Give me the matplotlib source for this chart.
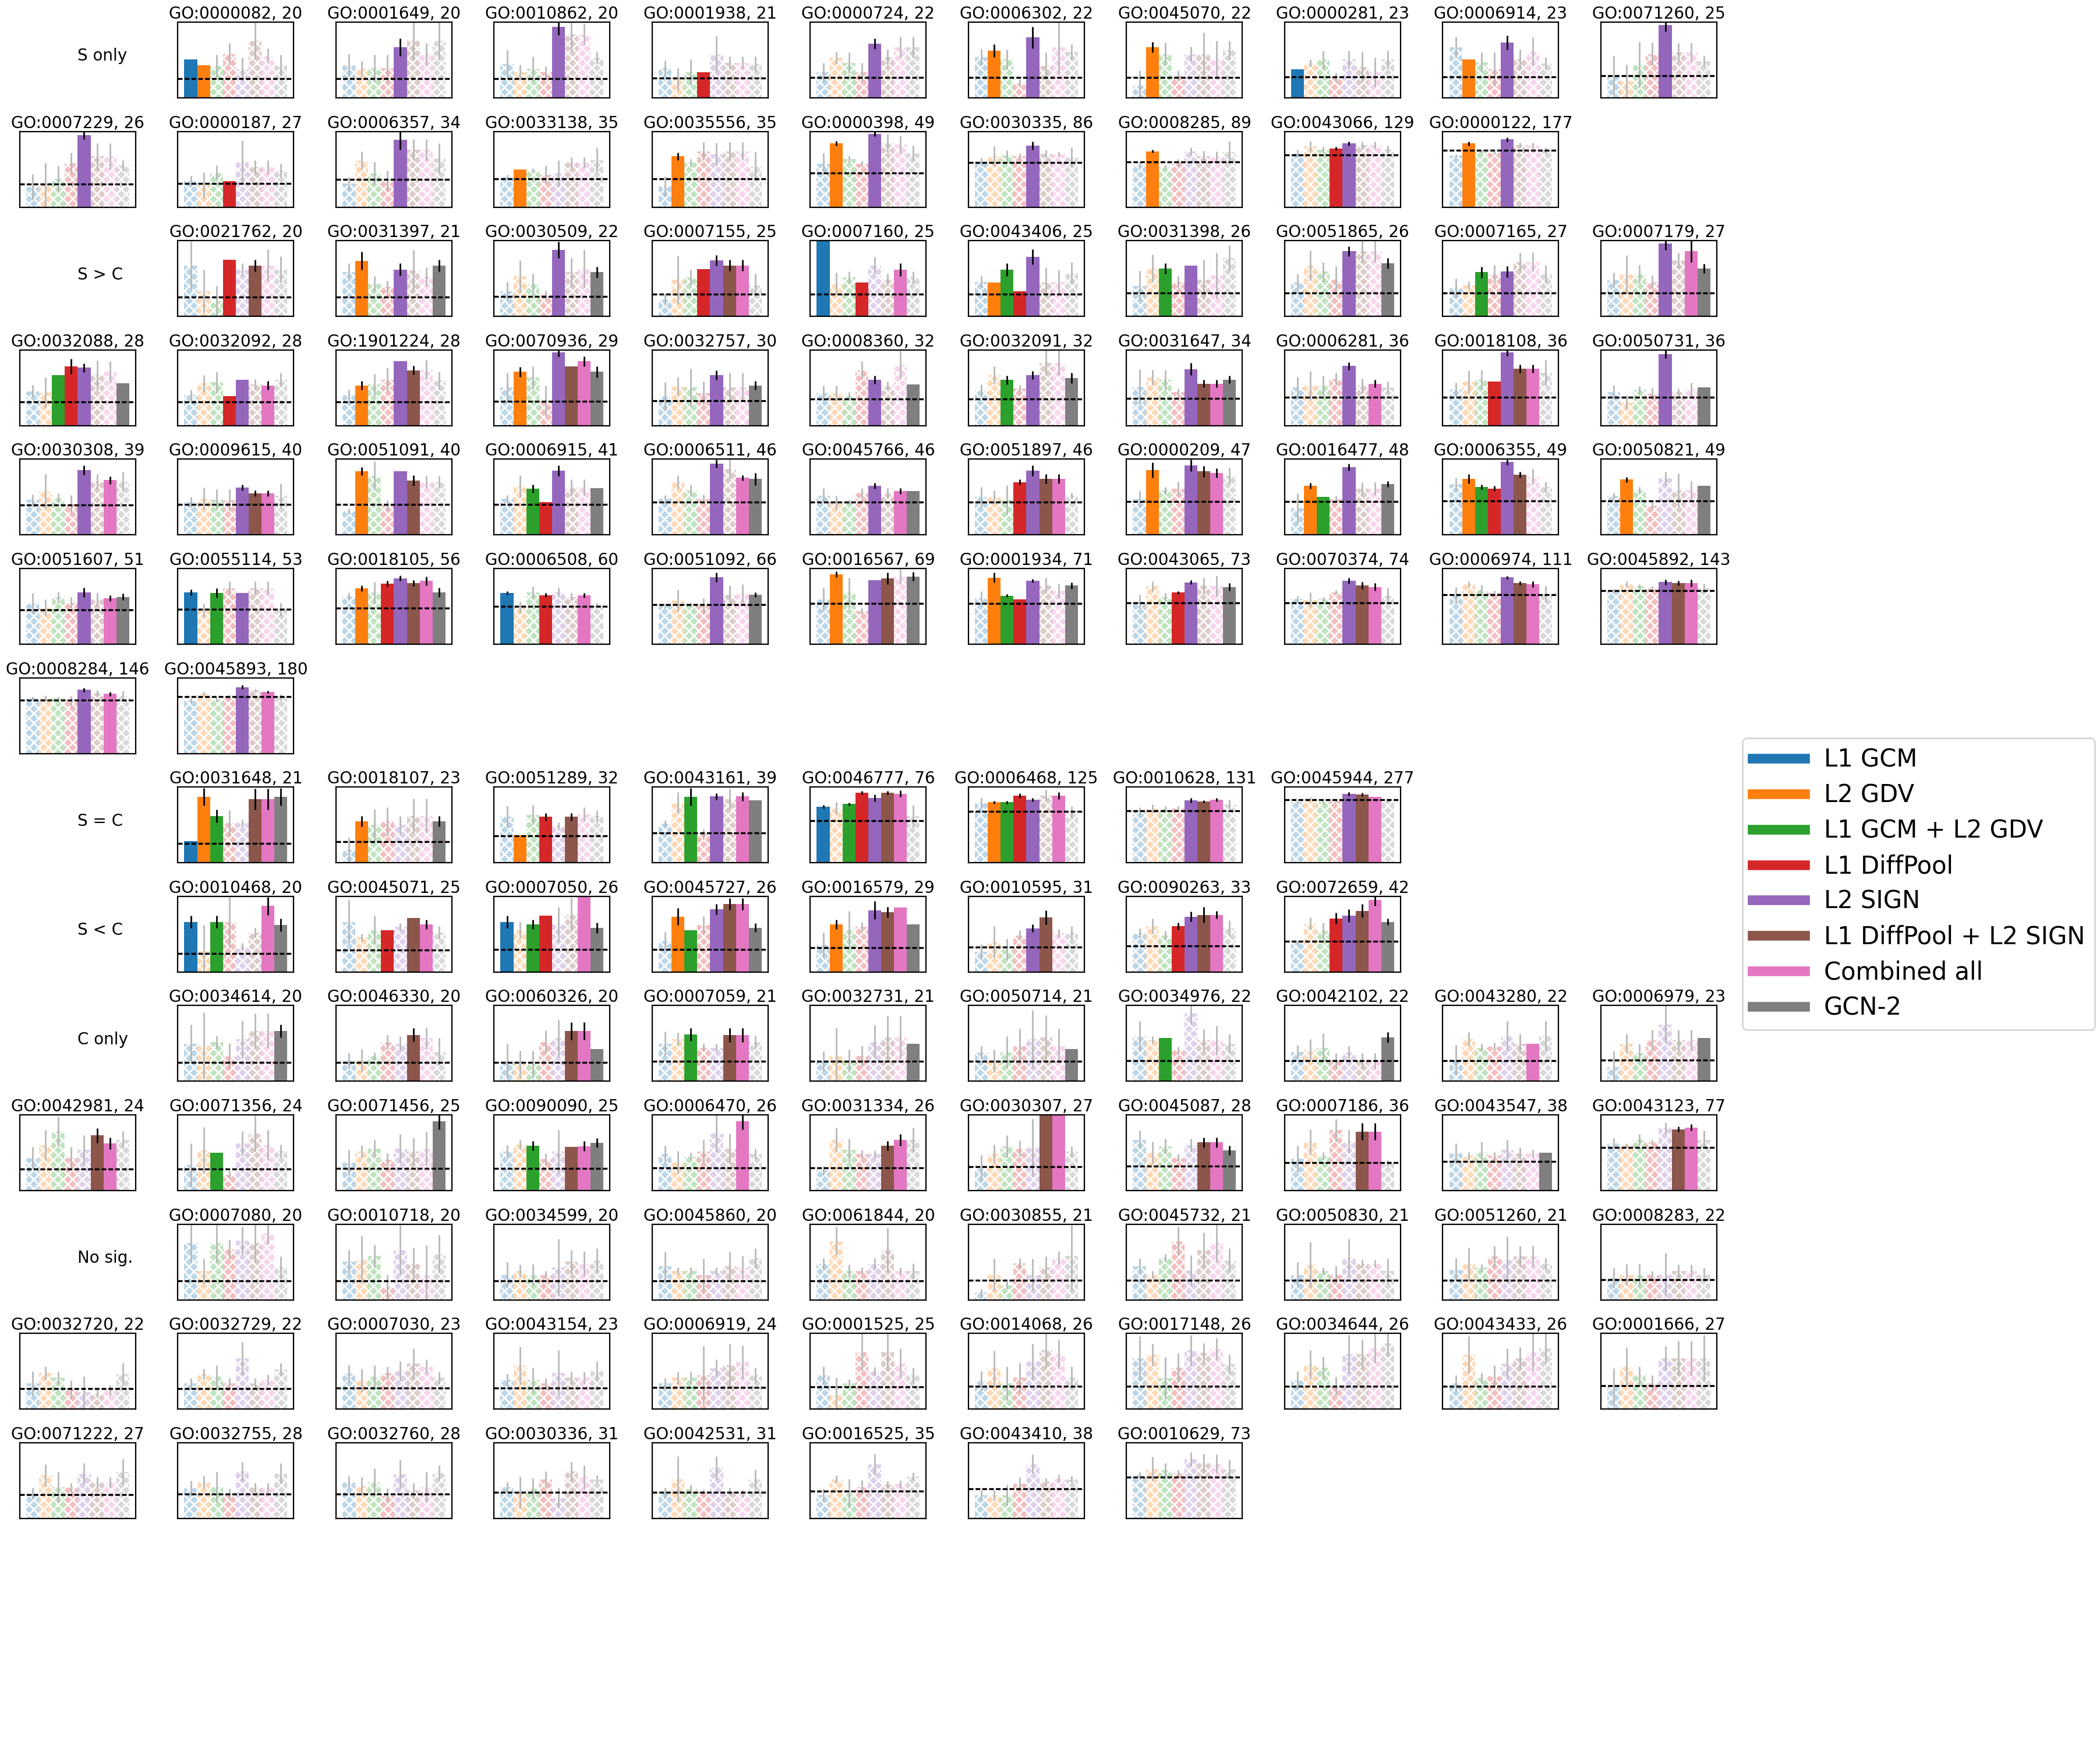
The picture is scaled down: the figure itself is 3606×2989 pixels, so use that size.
import numpy as np
import matplotlib.pyplot as plt
from matplotlib.gridspec import GridSpec
from matplotlib.lines import Line2D
from matplotlib.colors import to_rgb

methods = ['L1 GCM', 'L2 GDV', 'L1 GCM + L2 GDV', 'L1 DiffPool', 'L2 SIGN',
           'L1 DiffPool + L2 SIGN', 'Combined all', 'GCN-2']
colors = ['#1f77b4', '#ff7f0e', '#2ca02c', '#d62728', '#9467bd', '#8c564b', '#e377c2', '#7f7f7f']

section_names = ['S only', 'S > C', 'S = C', 'S < C', 'C only', 'No sig.']
section_sizes = [20, 45, 8, 8, 21, 29]

go_terms = [
    # S only
    'GO:0000082', 'GO:0001649', 'GO:0010862', 'GO:0001938', 'GO:0000724', 'GO:0006302', 'GO:0045070',
    'GO:0000281', 'GO:0006914', 'GO:0071260', 'GO:0007229', 'GO:0000187', 'GO:0006357', 'GO:0033138',
    'GO:0035556', 'GO:0000398', 'GO:0030335', 'GO:0008285', 'GO:0043066', 'GO:0000122',
    # S > C
    'GO:0021762', 'GO:0031397', 'GO:0030509', 'GO:0007155', 'GO:0007160', 'GO:0043406', 'GO:0031398',
    'GO:0051865', 'GO:0007165', 'GO:0007179', 'GO:0032088', 'GO:0032092', 'GO:1901224', 'GO:0070936',
    'GO:0032757', 'GO:0008360', 'GO:0032091', 'GO:0031647', 'GO:0006281', 'GO:0018108', 'GO:0050731',
    'GO:0030308', 'GO:0009615', 'GO:0051091', 'GO:0006915', 'GO:0006511', 'GO:0045766', 'GO:0051897',
    'GO:0000209', 'GO:0016477', 'GO:0006355', 'GO:0050821', 'GO:0051607', 'GO:0055114', 'GO:0018105',
    'GO:0006508', 'GO:0051092', 'GO:0016567', 'GO:0001934', 'GO:0043065', 'GO:0070374', 'GO:0006974',
    'GO:0045892', 'GO:0008284', 'GO:0045893',
    # S = C
    'GO:0031648', 'GO:0018107', 'GO:0051289', 'GO:0043161', 'GO:0046777', 'GO:0006468', 'GO:0010628',
    'GO:0045944',
    # S < C
    'GO:0010468', 'GO:0045071', 'GO:0007050', 'GO:0045727', 'GO:0016579', 'GO:0010595', 'GO:0090263',
    'GO:0072659',
    # C only
    'GO:0034614', 'GO:0046330', 'GO:0060326', 'GO:0007059', 'GO:0032731', 'GO:0050714', 'GO:0034976',
    'GO:0042102', 'GO:0043280', 'GO:0006979', 'GO:0042981', 'GO:0071356', 'GO:0071456', 'GO:0090090',
    'GO:0006470', 'GO:0031334', 'GO:0030307', 'GO:0045087', 'GO:0007186', 'GO:0043547', 'GO:0043123',
    # No sig.
    'GO:0007080', 'GO:0010718', 'GO:0034599', 'GO:0045860', 'GO:0061844', 'GO:0030855', 'GO:0045732',
    'GO:0050830', 'GO:0051260', 'GO:0008283', 'GO:0032720', 'GO:0032729', 'GO:0007030', 'GO:0043154',
    'GO:0006919', 'GO:0001525', 'GO:0014068', 'GO:0017148', 'GO:0034644', 'GO:0043433', 'GO:0001666',
    'GO:0071222', 'GO:0032755', 'GO:0032760', 'GO:0030336', 'GO:0042531', 'GO:0016525', 'GO:0043410',
    'GO:0010629',
]

n_genes = [
    20, 20, 20, 21, 22, 22, 22, 23, 23, 25, 26, 27, 34, 35, 35, 49, 86, 89, 129, 177,
    20, 21, 22, 25, 25, 25, 26, 26, 27, 27, 28, 28, 28, 29, 30, 32, 32, 34, 36, 36, 36,
    39, 40, 40, 41, 46, 46, 46, 47, 48, 49, 49, 51, 53, 56, 60, 66, 69, 71, 73, 74, 111, 143, 146, 180,
    21, 23, 32, 39, 76, 125, 131, 277,
    20, 25, 26, 26, 29, 31, 33, 42,
    20, 20, 20, 21, 21, 21, 22, 22, 22, 23, 24, 24, 25, 25, 26, 26, 27, 28, 36, 38, 77,
    20, 20, 20, 20, 20, 21, 21, 21, 21, 22, 22, 22, 23, 23, 24, 25, 26, 26, 26, 26, 27,
    27, 28, 28, 31, 31, 35, 38, 73,
]

# dashed reference level per term
baseline = [
    25.7, 25.7, 25.7, 26.2, 27, 27, 27, 27.5, 27.5, 29, 30.4, 31, 36.6, 37, 37, 44.7, 58.8, 59.6, 68.8, 74.8,
    25.3, 25.8, 26.6, 29.6, 29.6, 29.6, 30.7, 30.7, 31, 31, 31.7, 31.7, 31.7, 32.5, 33.3, 35, 35, 36,
    37.5, 37.5, 37.5, 39.7, 40.5, 40.5, 40.5, 43.3, 43.3, 43.3, 44.4, 44.4, 45.3, 45.3, 45.6, 46.5,
    47.9, 49.8, 52, 53.5, 54, 55, 55, 65.4, 70.4, 70.6, 75,
    25.7, 28, 35.3, 39.5, 55.6, 67.5, 69, 83,
    24.8, 29, 29.6, 29.6, 32.4, 33.2, 34.6, 40.8,
    24.8, 24.8, 24.8, 26.2, 26.2, 26.2, 27, 27, 27, 27.9, 28.9, 28.9, 29.4, 29.4, 30.3, 30.3, 31.4,
    32.2, 37.3, 38.7, 56.6,
    25.2, 25.2, 25.2, 25.2, 25.2, 26, 26, 26, 26, 26.9, 27.2, 27.2, 28.2, 28.2, 29, 29.7, 30.3, 30.3,
    30.3, 30.3, 31, 31.1, 31.9, 31.9, 34.2, 34.2, 36.2, 38.8, 54.8,
]

scores = [
    [50.4, 42.7, 42, 58, 38, 75, 55.7, 42.7], [42.7, 38.4, 39, 39, 66.8, 75, 57.6, 75],
    [44.3, 33.8, 38.4, 33.8, 93.8, 83.8, 83.8, 52.7], [39, 24.3, 33.8, 33.8, 57.6, 46.5, 46.5, 44.3],
    [33.8, 53, 46, 33.8, 71.4, 53.5, 66.8, 66.8], [53.8, 62, 50.5, 19.5, 79.7, 42, 66.8, 61],
    [16.8, 66.8, 58, 29, 58, 58, 50.5, 63], [37.6, 45.7, 50.5, 27, 50.5, 40.5, 33.8, 50.5],
    [66.8, 50.5, 47, 37.6, 73, 50.5, 61, 45.7], [29, 22, 44, 58, 96, 60, 60, 48.4],
    [26.3, 29, 37, 58, 95, 67, 67, 55], [34.4, 29, 44.7, 34.4, 59.3, 52.6, 52.6, 48.5],
    [31, 61.5, 45, 34.4, 88.6, 75.6, 75.6, 64], [39.5, 50, 48.5, 43, 44.7, 58.8, 58.8, 62.3],
    [27.6, 67.2, 58.8, 73.7, 70, 73.7, 73.7, 53.7], [57.2, 84.5, 63.4, 57.2, 96.5, 84.5, 82.6, 71],
    [60, 67.2, 68.3, 67.2, 81, 70.5, 69.4, 65.6], [54.7, 73.7, 52.6, 58.8, 73.7, 67.2, 66.4, 73],
    [70.5, 80.2, 75.6, 77.2, 84, 81.8, 81.8, 76.4], [68, 84, 73, 71.8, 89.4, 81.8, 81, 74.8],
    # S > C
    [67.4, 33.4, 20, 75, 62, 67.4, 67.4, 62], [58.4, 73.4, 43.5, 39, 62, 61, 52.4, 67.4],
    [33.4, 53, 43.5, 28.3, 87.8, 58.4, 62.8, 58.4], [22.5, 48.4, 51.6, 62.8, 74, 67.4, 67.4, 41],
    [100, 43.5, 51.6, 45, 67.4, 48.4, 62, 51.6], [45.6, 45, 62, 33.4, 78.3, 45, 45.6, 57.3],
    [40.2, 63.3, 63.3, 45.6, 67.4, 48.4, 53.8, 76.9], [45, 67.4, 59, 48.4, 86, 86, 86, 70],
    [37.5, 41, 58.4, 55.7, 59, 72, 72, 55.7], [47.6, 55.7, 55.7, 45, 96, 74, 86, 63.3],
    [45.6, 43.6, 66.7, 78, 76.4, 66.7, 71, 55.8], [40.3, 55.8, 57.2, 39.4, 60.5, 54.4, 53.3, 60.5],
    [40.3, 53.3, 54.2, 60.5, 85.3, 73.3, 74, 59.7], [50.5, 71, 63.6, 33.3, 96.4, 78, 85, 71],
    [38.9, 51.7, 50.5, 43.3, 66.7, 50.5, 50.5, 53.3], [42.8, 42.8, 39.4, 73.3, 60.5, 53.3, 80.3, 54.4],
    [45.8, 66.7, 60.3, 48.9, 66.7, 83.3, 83.3, 62.8], [51.4, 63.9, 60.8, 44.4, 74.7, 55.5, 55.5, 60.8],
    [50.5, 52.8, 52.8, 61.7, 78.9, 52.8, 55.5, 50.5], [47.5, 58, 60.8, 58, 97, 75.5, 75.5, 70],
    [44.4, 30.5, 47.2, 42.2, 94.4, 44.4, 47.2, 50.5], [46.6, 57, 48.6, 41, 85.8, 70.4, 72.6, 70.4],
    [43.3, 48, 46.6, 46, 62.6, 55, 55, 51.7], [31.3, 84.4, 78.2, 39, 84.4, 71.8, 69.8, 69.8],
    [48, 64.2, 61.2, 43.3, 85.2, 62.6, 62.6, 62], [48, 69.8, 58.7, 47.5, 94, 87.2, 75.4, 74],
    [52.2, 42.5, 43.3, 55.6, 64.8, 55, 57.8, 57.8], [50, 50, 46.6, 69.8, 85.2, 74, 74, 51.7],
    [47.2, 85.8, 58.7, 61.2, 91.9, 83.8, 82, 78], [35.5, 64.8, 50, 47.5, 89.4, 61.2, 61.2, 67],
    [67, 74, 63.4, 61.2, 96.4, 79.3, 76.8, 63.4], [51.7, 73.2, 58.7, 39, 74.6, 58.7, 59.2, 64.8],
    [54, 48.5, 62, 55, 68.5, 59, 61, 62.5], [68.5, 44.5, 67.6, 73.8, 67.6, 74, 74, 46.5],
    [63, 74, 68.7, 79.7, 87.3, 81, 83.6, 68.5], [67.6, 48.5, 68.5, 64.8, 68.5, 62.5, 64.8, 51.8],
    [50.7, 57.7, 52, 50.7, 88.7, 65.6, 67, 65.6], [59, 92, 68, 43.7, 84.5, 86.8, 89.6, 89.6],
    [61, 88, 64.2, 59.2, 84, 77.5, 71, 77.5], [56.3, 76.6, 62, 68.2, 81.7, 77.5, 76.6, 75.5],
    [59.7, 58.6, 59.7, 68.2, 84, 77.5, 75.5, 64.2], [64.8, 78.9, 71.8, 67.6, 88.2, 81, 79.4, 66.2],
    [70.4, 79.4, 76.6, 74, 82, 81, 81, 74], [73, 73, 73, 69.2, 84, 79.8, 78.7, 76],
    [70, 79.3, 71.4, 74.2, 87.7, 83.2, 81.2, 74.2],
    # S = C
    [28.5, 87.3, 62, 52.3, 52.3, 84, 84, 87.3], [17, 54.5, 50, 54.5, 50, 62, 62, 54.5],
    [60.7, 36.2, 63, 60.7, 48.6, 60.7, 64, 62], [51.4, 79, 87.3, 38, 87.6, 84, 87.6, 82.5],
    [74, 72, 77.7, 92.4, 85.6, 92.4, 91, 61.6], [79, 80, 80, 88.4, 83.3, 88.4, 88.4, 66.4],
    [68.6, 71.5, 70.6, 71.5, 82.5, 81, 83.3, 77], [80, 84.7, 80, 81.4, 91, 90.1, 87.3, 81.4],
    # S < C
    [66.2, 27.3, 66.2, 66.2, 33, 52, 87.3, 62], [66.2, 46, 55.5, 55.5, 59.7, 71.3, 62.8, 52],
    [66.2, 55.5, 62.8, 74.6, 62.8, 76, 100, 58.3], [40.8, 73.2, 55.5, 62.5, 83, 90, 90, 58.6],
    [36, 62.8, 56.3, 59.7, 81.7, 79.4, 85.4, 62.8], [26.8, 40, 30, 48.4, 57.7, 72.4, 51.5, 52],
    [51.5, 61, 48.4, 61, 73.2, 75.5, 75.5, 57.7], [38, 64, 54.4, 71, 74.6, 80.8, 95, 66.2],
    # C only
    [49.9, 47.4, 52, 33.4, 55.7, 66.6, 66.6, 66.6], [27.6, 27.6, 33.4, 52, 49.3, 61.3, 57, 39],
    [26.5, 22.3, 22.3, 52, 57, 66.6, 66.6, 43], [49.9, 55.7, 62, 44.3, 44.3, 61.3, 61.3, 52],
    [26.2, 33.4, 27, 33.4, 52, 58, 58, 49.9], [38.2, 27, 38.2, 46.8, 55.7, 58, 46.8, 43],
    [59.3, 54.3, 57, 40.9, 89.7, 54.3, 54.3, 49.9], [39, 41, 44.3, 27, 38.2, 27, 27, 58],
    [28.7, 55.7, 44.3, 46, 59.3, 49.9, 49.9, 59.3], [19.2, 49.9, 37.6, 54.3, 75, 54.3, 54.3, 57],
    [43.4, 60.2, 78, 43.4, 53.8, 72.8, 62.5, 67.2], [33.6, 53.2, 50.4, 21, 62.5, 75.6, 60.2, 52.4],
    [37, 51.8, 55.5, 40.6, 55.5, 51.8, 55.5, 91.9], [51.8, 61, 59.4, 41.5, 51.8, 57.4, 58.8, 63],
    [48.5, 37, 44.8, 51.8, 75.6, 55.5, 91.9, 48.5], [26.6, 67.2, 53.8, 48.5, 48.5, 59.4, 67.2, 67.2],
    [29.4, 49, 58.8, 55.5, 56.9, 100, 100, 51.8], [67.2, 50.4, 58.8, 43.4, 60.2, 63.6, 63.6, 53.2],
    [42, 63.6, 45.7, 79.8, 64.4, 77.9, 77.9, 36.4], [49, 46.2, 50.4, 46.2, 54, 49, 49, 50.4],
    [62.5, 59.7, 67.2, 63.9, 82.6, 81.2, 83.5, 67.2],
    # No sig.
    [74.8, 38, 74.8, 66.5, 78, 74.8, 88.4, 43], [50.4, 53.2, 57.9, 16.6, 66.2, 47.6, 33.2, 60.7],
    [33.2, 38, 33.2, 33.2, 43, 50.4, 47.6, 52.4], [44, 38, 38, 33.2, 38, 44, 43, 55.4],
    [47.6, 77.6, 38, 38, 47.6, 66.2, 38, 38], [9.7, 33.2, 19, 48.2, 33.2, 42.7, 55.4, 57.9],
    [44, 33.2, 55.4, 77.6, 39.3, 66.2, 74.8, 52.4], [33.2, 46.3, 38, 33.2, 55.4, 47.6, 47.6, 38],
    [39.9, 47.6, 42.7, 57.3, 53.2, 57.3, 57.3, 47.6], [29, 33.2, 33.2, 33.2, 33.2, 38, 38, 33.2],
    [34.1, 47.7, 41.5, 26.2, 22.6, 20.5, 25, 46.4], [34.1, 46.4, 43, 34.1, 67.2, 34.1, 38.5, 52.6],
    [47.2, 37.9, 43, 48, 50.3, 60.3, 56.4, 41.5], [38.5, 57.9, 38.5, 34.1, 47.7, 41.5, 41.5, 50.3],
    [34.1, 41.5, 41.5, 44.9, 54, 57.9, 62.3, 44.9], [44.9, 18.7, 34.1, 75.6, 50.3, 75.6, 60.3, 44.9],
    [37.2, 54.1, 34.1, 41.5, 63, 78.2, 72.6, 41.5], [67.2, 71.8, 41, 54.9, 77.7, 74.6, 79.5, 59.5],
    [38, 58.5, 54.9, 30.3, 72.6, 72.6, 80.3, 87.2], [34.1, 71.8, 41, 43, 60.3, 67.2, 75.6, 80.3],
    [29, 56.4, 44.9, 34.1, 67.2, 67.2, 67.2, 67.2], [32.9, 56.8, 41.4, 40.6, 59.4, 47.8, 47.8, 61.7],
    [40.1, 47.8, 41.4, 31.9, 62.5, 40.6, 40.6, 59.4], [47.8, 43.2, 47.8, 30.3, 58.6, 36.8, 41.4, 59.9],
    [41.4, 34.2, 39.3, 51.7, 27, 62.5, 54.8, 51.7], [33.4, 52.2, 39.3, 35.5, 67, 35.5, 32.9, 51.7],
    [30.8, 51.7, 32.9, 41.4, 71.5, 44.5, 45.2, 55.5], [30.8, 30.8, 30.8, 46.3, 72.2, 48.3, 53, 51.7],
    [56.8, 65.6, 63.8, 59.9, 78.4, 73.3, 72.2, 65.6],
]

errors = [
    [0, 0, 14.6, 14, 15, 24.5, 9.4, 14], [15, 10, 18, 18, 11.5, 25, 15, 25],
    [19, 10, 16, 8, 11, 22, 14, 8], [10, 15, 17, 0, 24, 8, 8, 10],
    [12, 8, 14, 12, 7, 10, 14, 14], [11, 8.5, 13, 5, 14, 18, 35, 10],
    [19, 7, 15, 7, 10, 28, 25, 12], [0, 5, 12, 6, 12, 20, 19, 12],
    [14, 0, 13, 22, 9, 13, 19, 8], [26, 22, 30, 15, 8, 12, 12, 7],
    [17, 29, 17, 14, 5, 17, 17, 7], [7, 17, 10, 0, 29, 9, 9, 9],
    [9, 12, 15, 14, 12.5, 14, 14, 20], [3, 0, 3, 12, 17, 7, 7, 16],
    [13, 5, 5, 12, 15, 12, 12, 19], [14, 3, 4, 4, 3, 12, 12, 10],
    [5, 13, 7, 4, 5.4, 5, 3, 13], [4, 2, 3, 5, 5, 7, 7, 14],
    [5, 7, 4, 2.5, 2.5, 5, 5, 5], [2, 2.5, 2, 2, 2.7, 3, 4, 4],
    # S > C
    [32, 28, 20, 0, 8, 7.7, 21, 17], [12, 12, 10, 8, 8, 27, 12, 7.7],
    [12, 21, 13, 6, 11, 19, 25, 7.5], [8, 32, 10, 0, 7, 7, 7, 15],
    [0, 14, 8, 0, 11, 8, 8.5, 8], [8, 0, 8.5, 0, 10, 20, 15, 14],
    [20, 18, 7, 8, 0, 26, 30, 17], [11, 20, 13, 18, 6.4, 14, 14, 7],
    [13, 5, 7.5, 12, 7, 12, 13, 12], [10, 25, 12, 9, 8, 10, 14, 6],
    [8, 20, 0, 10, 6, 19, 14, 0], [7.5, 11, 14, 0, 0, 7, 5.5, 9.5],
    [7.5, 5.5, 14, 16, 0, 5.5, 13, 12], [19, 6.7, 15, 20, 5, 0, 6.5, 7],
    [19, 13, 25, 15, 6, 19, 19, 5.5], [10, 10, 5, 12, 5.3, 5, 19, 0],
    [8.6, 11.6, 5.5, 5, 5.3, 16.7, 16.7, 6.7], [23, 10, 13, 5, 8.3, 5, 5, 5],
    [14, 19, 13, 8, 5, 9.5, 5, 7.5], [9, 15, 13, 0, 5, 5.3, 5.3, 17],
    [9.5, 9.5, 5, 8, 5.5, 5, 9.5, 0], [7, 23, 6, 12, 6, 10, 5, 13],
    [6.7, 14.5, 13.4, 14, 4, 4, 4, 16], [4, 5.5, 19, 7, 0, 7, 8, 8],
    [5, 14.5, 5.2, 0, 7, 10.6, 10.6, 0], [5, 9, 7.5, 6, 5.3, 12.8, 3.5, 8],
    [9.8, 9, 3, 6.4, 4, 7, 4, 0], [13.4, 9, 19, 3.5, 7, 6.3, 6.3, 4],
    [11, 10, 5, 9, 8, 7, 6, 10.6], [19.5, 3.6, 0, 4, 4.4, 8.4, 8.4, 3.8],
    [8.4, 6.3, 3, 3.5, 3.5, 3.8, 10.3, 7], [4, 3.4, 4.5, 5, 9, 22, 12, 0],
    [14, 10.7, 7.6, 7, 6.3, 8.5, 3.8, 4.2], [3.5, 8.5, 6.3, 9.3, 0, 9, 9, 8.5],
    [5.6, 3.8, 14, 3.8, 3.8, 3.8, 5.6, 5.8], [2.5, 8, 7.6, 2.8, 6, 5, 3, 3],
    [3, 14.6, 3, 10, 6, 12, 12.4, 3], [15.5, 3.8, 20, 4, 0, 7.7, 10, 5.6],
    [9.3, 6.3, 2.2, 0, 2.5, 9.9, 9.3, 4.2], [9, 6.3, 5.6, 2, 2.8, 10.4, 14.4, 5],
    [4.5, 9.6, 3, 3, 3.8, 4.5, 5, 10.4], [10.7, 4.2, 7, 3, 2.1, 2.2, 3.8, 11],
    [3, 3.7, 3, 3, 3.5, 3, 4.5, 6], [2, 4, 2, 7, 2.8, 4, 2.8, 7],
    [3, 2, 3, 3, 2.5, 2.2, 1.7, 4],
    # S = C
    [0, 11.6, 8.5, 17, 5, 14, 14, 11.6], [16, 7, 21, 18.6, 12, 22.6, 22.6, 7],
    [14, 0, 13, 5, 5, 5, 9, 7.6], [5, 14, 11.6, 7, 4.2, 14, 5.6, 0],
    [2.4, 8, 2, 2.4, 4.4, 2.4, 4.2, 14.7], [6.5, 1.8, 1.8, 3.2, 2.2, 7.6, 4.6, 8.5],
    [5, 5.6, 4.2, 3, 3.2, 1.8, 2.2, 6.2], [2, 2, 2, 2, 2.1, 2.1, 0, 2],
    # S < C
    [8.2, 35, 8.2, 34, 5, 6, 11.7, 8.5], [29, 5, 19, 0, 5, 0, 6.3, 8.5],
    [8, 10.7, 6.3, 0, 23, 22, 0, 7], [12, 11.3, 0, 11.5, 7, 7.6, 7.6, 6],
    [16, 6.3, 24, 6.5, 12, 7, 0, 0], [10, 20.6, 14, 6.5, 5, 9.4, 5.6, 9],
    [6.3, 10, 6, 4.6, 6.3, 10.4, 5.2, 10.4], [3, 8, 11, 7, 8.5, 8.7, 7.3, 4.2],
    # C only
    [25, 44, 8.4, 17, 25, 22.6, 22.6, 8.2], [10, 15, 5, 9.2, 10, 9, 14, 18],
    [23, 18, 18, 15, 24.5, 11.4, 11.4, 0], [16, 8.4, 8.4, 5, 5, 9.4, 9.4, 8.4],
    [13, 37, 15, 14, 22, 28.6, 28.6, 0], [8.6, 15, 21, 22.8, 38.5, 29, 22.8, 0],
    [20, 5, 0, 5, 14, 14.5, 19.5, 12.8], [9, 14.8, 19, 10.6, 8.4, 10.6, 10.6, 7],
    [19.5, 9.2, 5, 5, 20, 12.8, 0, 20], [21, 12.8, 12.3, 14, 25, 14, 14, 0],
    [14, 20, 19.6, 14, 19.6, 9.4, 7.7, 11], [29, 31, 0, 5, 16, 24, 20, 8.4],
    [17, 8.4, 11.8, 8.4, 19.3, 17.6, 22.4, 11], [8.4, 6.2, 6, 7.6, 28.6, 0, 6.7, 6.4],
    [11, 15, 5, 15.4, 24.4, 20, 11, 7], [5.6, 16, 15, 5, 5, 6, 7.7, 16],
    [17.6, 12, 14.6, 10.4, 38, 0, 0, 7], [11.8, 14.6, 10, 5, 8.4, 6.4, 6.4, 6.3],
    [17, 17, 5, 15, 15.4, 11.2, 11.2, 4], [13.4, 5, 14.6, 5, 13, 7.6, 5, 0],
    [6.7, 3, 7.8, 3, 7.6, 3.6, 4.4, 12],
    # No sig.
    [25, 16.6, 25, 13, 18.6, 25, 15, 14.4], [15.8, 31, 14.7, 16.6, 33, 21, 38.5, 25],
    [16.3, 8.3, 14.4, 5, 37.7, 15.8, 16.6, 16], [19.4, 5, 5, 21.3, 5, 19.4, 15, 13],
    [7.5, 19, 8.3, 5, 7.5, 29, 5, 10], [5, 21.3, 5, 7, 21, 14.7, 8.9, 46],
    [10, 5, 5, 19, 20, 23, 25, 16], [16.3, 30.5, 5, 11.6, 25, 5, 5, 16.6],
    [15, 21.6, 5, 14, 30.5, 14, 14, 7.5], [13, 14.4, 14.4, 5, 29, 8.3, 8.3, 8.9],
    [16, 8.7, 8, 12, 21, 5, 7, 14.6], [7, 7, 15, 7, 21.5, 7, 7, 8.5],
    [11.3, 15.4, 15, 8.5, 12.8, 20, 9, 8], [8, 25, 16, 7, 30, 8, 8, 12.8],
    [7, 8, 8, 38.5, 11.5, 28.8, 21.8, 9.7], [11.5, 23, 5, 24.6, 5.6, 24.6, 20, 9.7],
    [13, 23, 22, 19.5, 23.6, 23, 19.2, 14.9], [29, 14.9, 28, 19, 20.5, 12.6, 14.4, 13],
    [12.3, 19.2, 14.4, 12.3, 25.6, 19.2, 19.5, 18], [11, 24.6, 6.7, 15, 20, 14.4, 25, 19.7],
    [25, 25.6, 11.5, 11, 16.4, 23.3, 23.3, 31], [7.7, 14.6, 19.8, 6.4, 13.4, 7, 7, 17],
    [9.5, 8.2, 19.8, 7.5, 12.3, 6.4, 6.4, 13.4], [8.2, 11.6, 18, 9.5, 19.3, 10.3, 19.8, 10.3],
    [7, 21, 13.6, 10.8, 13.6, 12.3, 15.4, 5], [7, 30, 5, 3, 15.4, 5, 5, 12.8],
    [8.5, 5, 19, 9.5, 14, 5, 5, 5], [7.2, 7.2, 13.6, 8, 12.6, 5, 5, 4.4],
    [5, 16, 9, 4, 9.3, 12.3, 12.6, 12.3],
]

# 1 = significant (solid bar), 0 = not significant (faded, hatched)
significant = [
    '11000000', '00001000', '00001000', '00010000', '00001000', '01001000', '01000000', '10000000',
    '01001000', '00001000', '00001000', '00010000', '00001000', '01000000', '01000000', '01001000',
    '00001000', '01000000', '00011000', '01001000',
    '00010100', '01001001', '00001001', '00011110', '10010010', '01111000', '00101000', '00001001',
    '00101000', '00001011', '00111001', '00011010', '01001100', '01001111', '00001001', '00001001',
    '00101001', '00001111', '00001010', '00011110', '00001001', '00001010', '00001110', '01001100',
    '00111001', '00001011', '00001011', '00011110', '01001110', '01101001', '01111100', '01000001',
    '00001011', '10101000', '01011111', '10010010', '00001001', '01001101', '01111001', '00011001',
    '00001110', '00001110', '00001110', '00001010', '00001010',
    '11100111', '01000001', '01010100', '00101011', '10111110', '01111010', '00001110', '00001110',
    '10100011', '00010110', '10110011', '01101111', '01001111', '00001100', '00011110', '00011111',
    '00000001', '00000100', '00000111', '00100110', '00000001', '00000001', '00100000', '00000001',
    '00000010', '00000001', '00000110', '00100000', '00000001', '00100111', '00000010', '00000110',
    '00000110', '00000111', '00000110', '00000001', '00000110',
    '00000000', '00000000', '00000000', '00000000', '00000000', '00000000', '00000000', '00000000',
    '00000000', '00000000', '00000000', '00000000', '00000000', '00000000', '00000000', '00000000',
    '00000000', '00000000', '00000000', '00000000', '00000000', '00000000', '00000000', '00000000',
    '00000000', '00000000', '00000000', '00000000', '00000000',
]


def faded(c, a=0.3):
    r, g, b = to_rgb(c)
    return (a * r + 1 - a, a * g + 1 - a, a * b + 1 - a)


def draw_panel(ax, i):
    x = np.arange(len(methods))
    for k in range(len(methods)):
        if significant[i][k] == '1':
            ax.bar(x[k], scores[i][k], width=1.0, color=colors[k], linewidth=0)
            ax.errorbar(x[k], scores[i][k], yerr=errors[i][k], color='black', lw=1.0)
        else:
            ax.bar(x[k], scores[i][k], width=1.0, color=faded(colors[k]), edgecolor='white',
                   hatch='xxxx', linewidth=0)
            ax.errorbar(x[k], scores[i][k], yerr=errors[i][k], color='#b8b8b8', lw=1.0)
    ax.axhline(baseline[i], color='black', linestyle=(0, (2.4, 1.1)), lw=1.2)
    ax.set_xlim(-1, 8)
    ax.set_ylim(0, 100)
    ax.set_xticks([])
    ax.set_yticks([])
    ax.set_title(f'{go_terms[i]}, {n_genes[i]}', fontsize=10, pad=1.5)


fig = plt.figure(figsize=(18.03, 14.945), dpi=200)
gs = GridSpec(16, 13, figure=fig, left=0.0094, right=0.9681, top=0.9873, bottom=0.0023,
              wspace=0.3643, hspace=0.4431)

plt.rcParams['hatch.linewidth'] = 1.0

row = 0
idx = 0
for name, size in zip(section_names, section_sizes):
    lab = fig.add_subplot(gs[row, 0])
    lab.axis('off')
    lab.text(0.5, 0.55, name, ha='left', va='center', fontsize=10, transform=lab.transAxes)
    col = 1
    for j in range(size):
        if col == 11:
            row += 1
            col = 0
        ax = fig.add_subplot(gs[row, col])
        draw_panel(ax, idx)
        idx += 1
        col += 1
    row += 1

handles = [Line2D([0], [0], color=c, lw=6) for c in colors]
fig.legend(handles, methods, loc='center right', bbox_to_anchor=(0.9975, 0.4923),
           borderaxespad=0, fontsize=15, handlelength=2.15, labelspacing=0.45)

fig.savefig('out.png', dpi=200)
